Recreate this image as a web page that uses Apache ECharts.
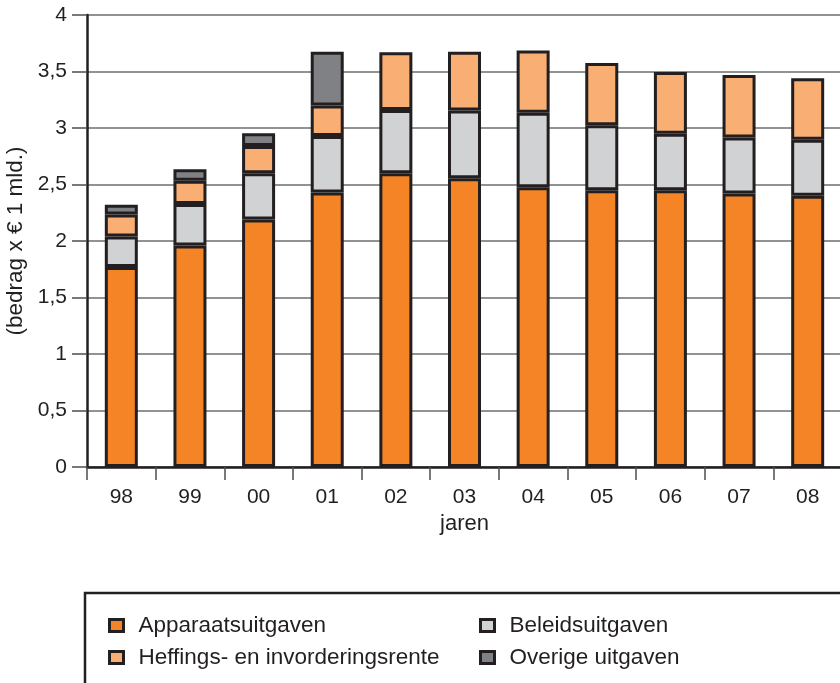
<!DOCTYPE html>
<html>
<head>
<meta charset="utf-8">
<script src="https://cdn.jsdelivr.net/npm/echarts@6/dist/echarts.min.js"></script>
<style>
  html, body { margin: 0; padding: 0; background: #ffffff; }
  #chart { width: 840px; height: 683px; }
</style>
</head>
<body>
<div id="chart"></div>
<script>
// Jaren (x-as)
const jaren = ['98', '99', '00', '01', '02', '03', '04', '05', '06', '07', '08'];

// Uitgaven in miljarden euro, per categorie (gestapeld)
const apparaatsuitgaven = [1.77, 1.96, 2.19, 2.43, 2.60, 2.555, 2.475, 2.45, 2.45, 2.42, 2.40];
const beleidsuitgaven   = [0.27, 0.367, 0.41, 0.50, 0.56, 0.60, 0.66, 0.575, 0.50, 0.495, 0.495];
const heffingsrente     = [0.195, 0.207, 0.24, 0.27, 0.51, 0.52, 0.55, 0.55, 0.545, 0.555, 0.545];
const overigeUitgaven   = [0.085, 0.10, 0.113, 0.475, null, null, null, null, null, null, null];

// Y-as: 0 t/m 4 in stappen van 0,5
const yMin = 0, yMax = 4, yStap = 0.5;

const namen = {
  app: 'Apparaatsuitgaven',
  bel: 'Beleidsuitgaven',
  hef: 'Heffings- en invorderingsrente',
  ov: 'Overige uitgaven'
};

const kleuren = {
  app: '#f58426',
  bel: '#d1d2d4',
  hef: '#f9ae74',
  ov: '#808184'
};

const inkt = '#231f20';
const font = '"Liberation Sans", Arial, Helvetica, sans-serif';

function reeks(naam, data, kleur) {
  return {
    name: naam,
    type: 'bar',
    stack: 'totaal',
    barWidth: 33,
    data: data,
    itemStyle: { color: kleur, borderColor: inkt, borderWidth: 3, borderRadius: 0 },
    emphasis: { disabled: true }
  };
}

// Eén legenda per item, in twee kolommen geplaatst
function legendItem(naam, left, top) {
  return {
    left: left, top: top,
    itemWidth: 14, itemHeight: 12,
    data: [naam],
    textStyle: { color: inkt, fontSize: 22.5, fontFamily: font, padding: [0, 0, 0, 10] },
    itemStyle: { borderColor: inkt, borderWidth: 3 },
    icon: 'rect',
    padding: 0,
    selectedMode: false
  };
}

const chart = echarts.init(document.getElementById('chart'));
chart.setOption({
  animation: false,
  textStyle: { fontFamily: font },
  grid: {
    left: 87, top: 15, width: 755, bottom: 216,
    containLabel: false, outerBoundsMode: 'none'
  },
  xAxis: {
    type: 'category',
    data: jaren,
    name: 'jaren',
    nameLocation: 'middle',
    nameGap: 46,
    nameTextStyle: { color: inkt, fontSize: 22, fontFamily: font },
    axisLine: { lineStyle: { color: inkt, width: 2.5 } },
    axisTick: { show: true, length: 13, lineStyle: { color: '#4d4d4f', width: 1.5 } },
    axisLabel: { color: inkt, fontSize: 21, margin: 20, fontFamily: font }
  },
  yAxis: {
    type: 'value',
    min: yMin, max: yMax, interval: yStap,
    name: '(bedrag x € 1 mld.)',
    nameLocation: 'middle',
    nameGap: 53,
    nameTextStyle: { color: inkt, fontSize: 22.5, fontFamily: font },
    axisLine: { show: true, lineStyle: { color: inkt, width: 2.5 } },
    axisTick: { show: true, length: 15, lineStyle: { color: '#4d4d4f', width: 1.5 } },
    axisLabel: {
      color: inkt, fontSize: 21, margin: 20, fontFamily: font,
      formatter: v => String(v).replace('.', ',')
    },
    splitLine: { show: true, lineStyle: { color: '#6d6e71', width: 1.5 } }
  },
  legend: [
    legendItem(namen.app, 108, 614),
    legendItem(namen.hef, 108, 646),
    legendItem(namen.bel, 479, 614),
    legendItem(namen.ov, 479, 646)
  ],
  graphic: [
    {
      type: 'rect',
      shape: { x: 85, y: 593, width: 800, height: 200 },
      style: { fill: 'none', stroke: inkt, lineWidth: 2.5 },
      silent: true
    }
  ],
  series: [
    reeks(namen.app, apparaatsuitgaven, kleuren.app),
    reeks(namen.bel, beleidsuitgaven, kleuren.bel),
    reeks(namen.hef, heffingsrente, kleuren.hef),
    reeks(namen.ov, overigeUitgaven, kleuren.ov)
  ]
});
</script>
</body>
</html>
